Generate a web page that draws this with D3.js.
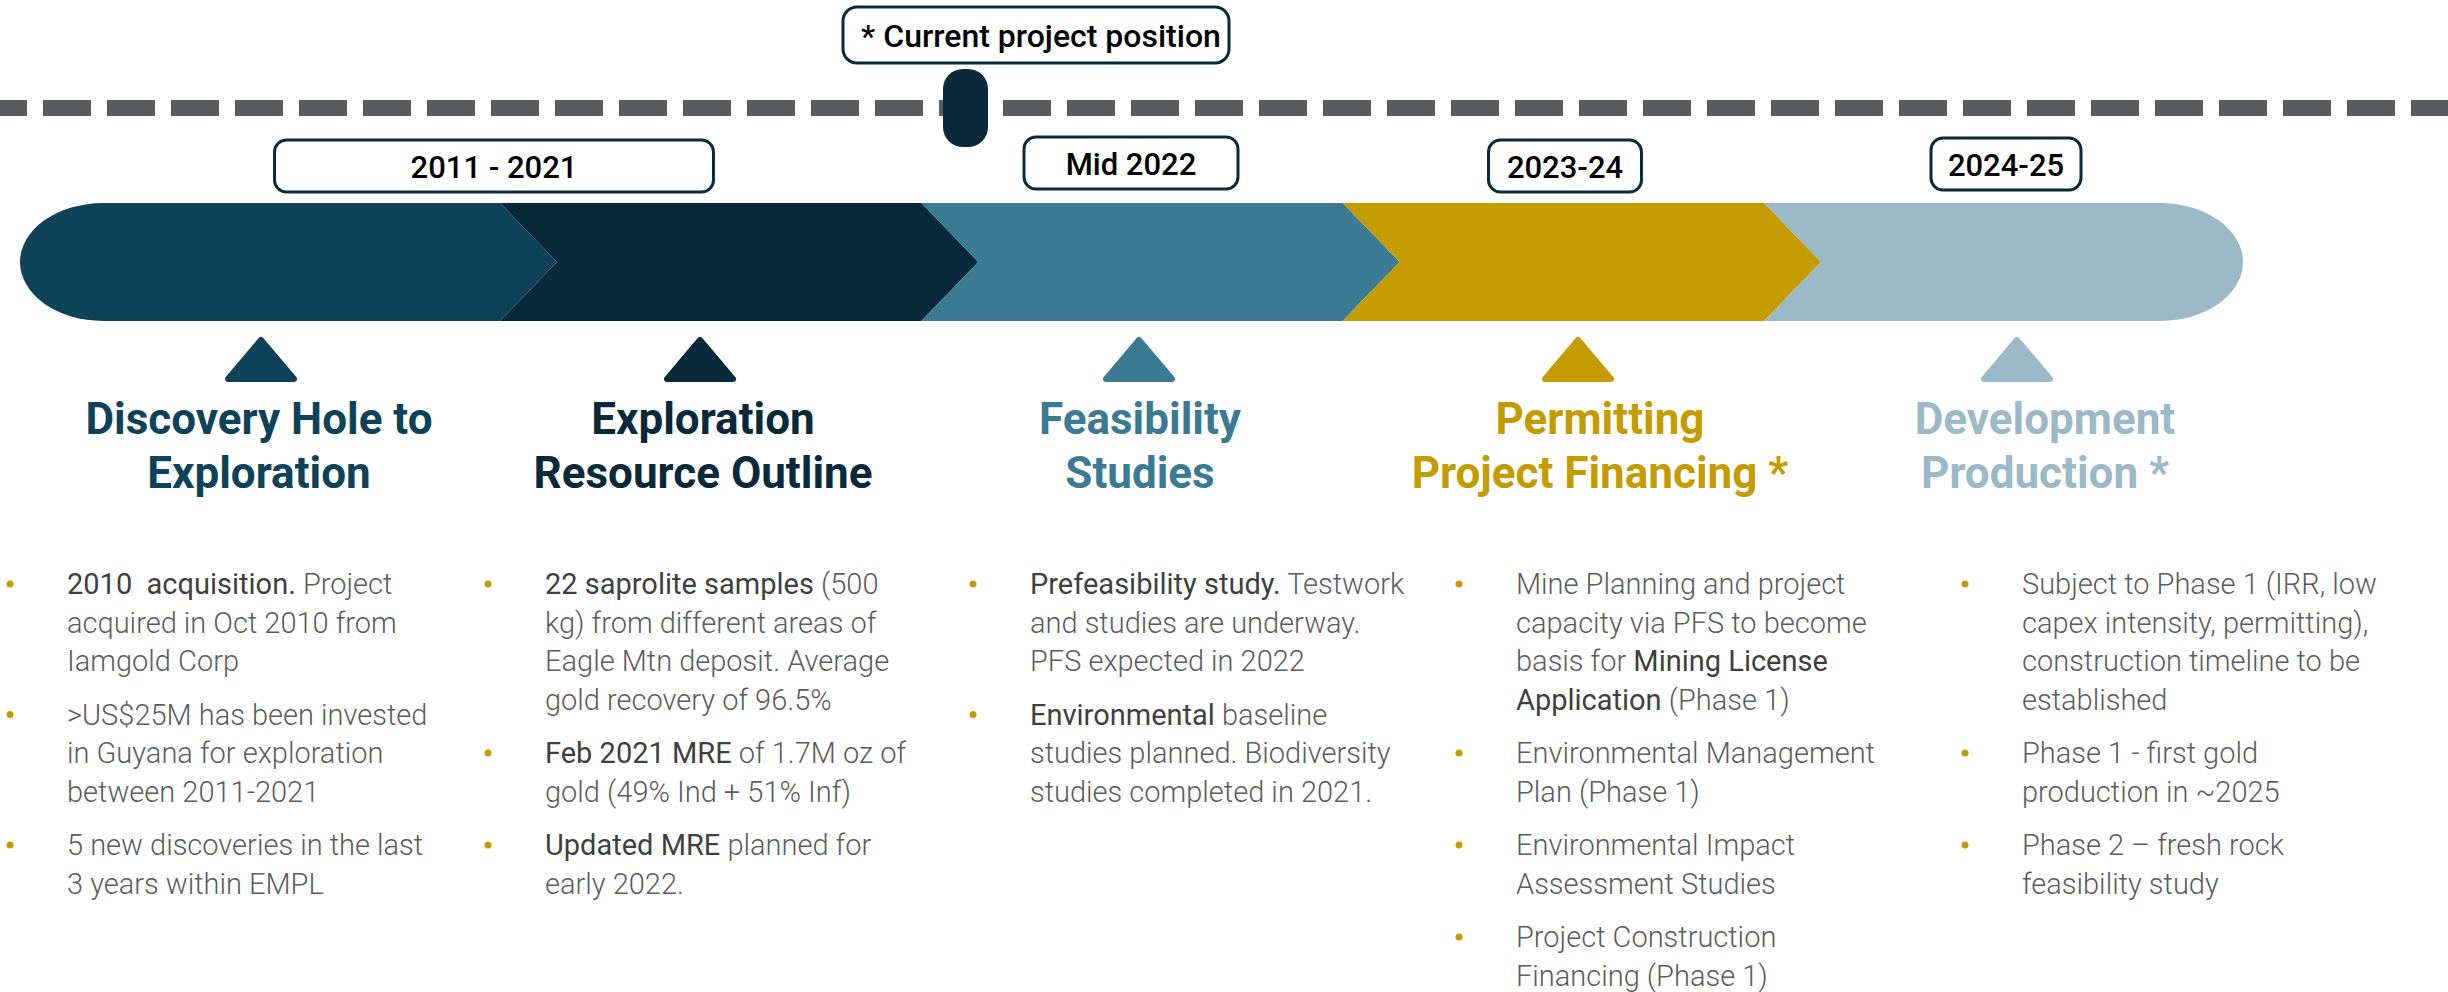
<!DOCTYPE html>
<html>
<head>
<meta charset="utf-8">
<script src="https://cdn.jsdelivr.net/npm/d3@7"></script>
<style>
body { margin: 0; background: #fff; }
text { font-family: Roboto, "Noto Sans", sans-serif; white-space: pre; }
</style>
</head>
<body>
<div class="container"></div>
<script>
// data
const headings = [
  ["Discovery Hole to", "Exploration"],
  ["Exploration", "Resource Outline"],
  ["Feasibility", "Studies"],
  ["Permitting", "Project Financing *"],
  ["Development", "Production *"]
];
const phaseColors = ["#0e4259", "#08293a", "#3c7a94", "#c49c00", "#9bb9c6"];
const dateLabels = ["2011 - 2021", "Mid 2022", "2023-24", "2024-25"];
const currentLabel = "* Current project position";

// ** marks the bold parts
const bullets = [
  [
    ["**2010  acquisition.** Project", "acquired in Oct 2010 from", "Iamgold Corp"],
    [">US$25M has been invested", "in Guyana for exploration", "between 2011-2021"],
    ["5 new discoveries in the last", "3 years within EMPL"]
  ],
  [
    ["**22 saprolite samples** (500", "kg) from different areas of", "Eagle Mtn deposit. Average", "gold recovery of 96.5%"],
    ["**Feb 2021 MRE** of 1.7M oz of", "gold (49% Ind + 51% Inf)"],
    ["**Updated MRE** planned for", "early 2022."]
  ],
  [
    ["**Prefeasibility study.** Testwork", "and studies are underway.", "PFS expected in 2022"],
    ["**Environmental** baseline", "studies planned. Biodiversity", "studies completed in 2021."]
  ],
  [
    ["Mine Planning and project", "capacity via PFS to become", "basis for **Mining License**", "**Application** (Phase 1)"],
    ["Environmental Management", "Plan (Phase 1)"],
    ["Environmental Impact", "Assessment Studies"],
    ["Project Construction", "Financing (Phase 1)"]
  ],
  [
    ["Subject to Phase 1 (IRR, low", "capex intensity, permitting),", "construction timeline to be", "established"],
    ["Phase 1 - first gold", "production in ~2025"],
    ["Phase 2 \u2013 fresh rock", "feasibility study"]
  ]
];

const WIDTH = 2448;
const HEIGHT = 992;
const DARK = "#0a2a3a";
const GOLD = "#c49c00";

var svg = d3.select('.container').append('svg')
  .attr("width", WIDTH).attr("height", HEIGHT);

// scales
var edgeX = d3.scaleLinear().domain([1, 4]).range([500, 1764]);
var triX = d3.scaleLinear().domain([0, 4]).range([261, 2017]);
var headX = d3.scaleLinear().domain([0, 1, 2, 3, 4]).range([259, 703, 1140, 1600, 2045]);
var colX = d3.scaleLinear().domain([0, 1, 2, 3, 4]).range([67, 545, 1030, 1516, 2022]);
var dateX = d3.scaleLinear().domain([0, 1, 2, 3]).range([494, 1131, 1565, 2006]);
const dateW = [439, 214, 153, 150];
const dateTop = [140, 137, 140, 138];

// dashed line
svg.append('line')
  .attr("x1", 0).attr("x2", WIDTH)
  .attr("y1", 108).attr("y2", 108)
  .attr("stroke", "#5a5b5e")
  .attr("stroke-width", 16)
  .attr("stroke-dasharray", "48 16")
  .attr("stroke-dashoffset", 21);

// current position box
svg.append('rect')
  .attr("x", 843).attr("y", 7)
  .attr("width", 386).attr("height", 56)
  .attr("rx", 14)
  .attr("fill", "#fff").attr("stroke", DARK).attr("stroke-width", 3);
svg.append('text')
  .attr("x", 1041).attr("y", 47)
  .attr("text-anchor", "middle")
  .attr("font-size", 32).attr("font-weight", 500)
  .attr("fill", "#000")
  .text(currentLabel);

// marker on the line
svg.append('rect')
  .attr("x", 943).attr("y", 69)
  .attr("width", 45).attr("height", 78)
  .attr("rx", 20)
  .attr("fill", DARK);

// date boxes
var dates = svg.selectAll('.date').data(dateLabels).enter().append('g').attr('class', 'date');
dates.append('rect')
  .attr("x", (d, i) => dateX(i) - dateW[i] / 2)
  .attr("y", (d, i) => dateTop[i])
  .attr("width", (d, i) => dateW[i])
  .attr("height", 52)
  .attr("rx", 12)
  .attr("fill", "#fff").attr("stroke", DARK).attr("stroke-width", 3);
dates.append('text')
  .attr("x", (d, i) => dateX(i))
  .attr("y", (d, i) => dateTop[i] + 38)
  .attr("text-anchor", "middle")
  .attr("font-size", 31).attr("font-weight", 500)
  .attr("fill", "#000")
  .text(d => d);

// chevrons
const TOP = 203, BOT = 321, MID = (TOP + BOT) / 2, DEPTH = 57, CAP = 83;
var chevronPath = function(i) {
  var p = d3.path();
  var ry = (BOT - TOP) / 2;
  if (i === 0) {
    var xs = 20 + CAP, xr = edgeX(1);
    p.moveTo(xs, TOP);
    p.lineTo(xr, TOP);
    p.lineTo(xr + DEPTH, MID);
    p.lineTo(xr, BOT);
    p.lineTo(xs, BOT);
    return p.toString() + "A" + CAP + "," + ry + " 0 0 1 " + xs + "," + TOP + "Z";
  }
  var xl = edgeX(i);
  if (i === 4) {
    var xe = 2243 - CAP;
    p.moveTo(xl, TOP);
    p.lineTo(xe, TOP);
    var s = p.toString() + "A" + CAP + "," + ry + " 0 0 1 " + xe + "," + BOT;
    return s + "L" + xl + "," + BOT + "L" + (xl + DEPTH) + "," + MID + "Z";
  }
  var xr2 = edgeX(i + 1);
  p.moveTo(xl, TOP);
  p.lineTo(xr2, TOP);
  p.lineTo(xr2 + DEPTH, MID);
  p.lineTo(xr2, BOT);
  p.lineTo(xl, BOT);
  p.lineTo(xl + DEPTH, MID);
  p.closePath();
  return p.toString();
};
svg.selectAll('.chev').data(phaseColors).enter().append('path')
  .attr('class', 'chev')
  .attr('d', (d, i) => chevronPath(i))
  .attr('fill', d => d);

// triangles
svg.selectAll('.tri').data(phaseColors).enter().append('path')
  .attr('class', 'tri')
  .attr('d', (d, i) => {
    var cx = triX(i);
    return "M" + cx + ",340L" + (cx + 33) + ",379L" + (cx - 33) + ",379Z";
  })
  .attr('fill', d => d).attr('stroke', d => d)
  .attr('stroke-width', 6).attr('stroke-linejoin', 'round');

// headings
var heads = svg.selectAll('.head').data(headings).enter().append('text')
  .attr('class', 'head')
  .attr('text-anchor', 'middle')
  .attr('font-size', 44).attr('font-weight', 700)
  .attr('fill', (d, i) => phaseColors[i]);
heads.selectAll('tspan').data(d => d).enter().append('tspan')
  .attr('x', function() { return headX(headings.indexOf(d3.select(this.parentNode).datum())); })
  .attr('y', (d, j) => 434 + j * 54)
  .text(d => d);

// bullet columns
const LINE = 38.5, GAP = 15, FIRST = 594;
var addRich = function(textSel, line) {
  line.split("**").forEach(function(s, k) {
    if (!s) return;
    textSel.append('tspan')
      .attr('font-weight', k % 2 ? 400 : 300)
      .attr('fill', k % 2 ? "#3f3f3f" : "#5c5c5c")
      .text(s);
  });
};
bullets.forEach(function(col, c) {
  var n = 0;
  col.forEach(function(para, p) {
    var y0 = FIRST + n * LINE + p * GAP;
    svg.append('circle')
      .attr('cx', colX(c) - 57).attr('cy', y0 - 10)
      .attr('r', 3.5).attr('fill', GOLD);
    para.forEach(function(line, j) {
      var t = svg.append('text')
        .attr('x', colX(c))
        .attr('y', y0 + j * LINE)
        .attr('font-size', 29);
      addRich(t, line);
    });
    n += para.length;
  });
});
</script>
</body>
</html>
